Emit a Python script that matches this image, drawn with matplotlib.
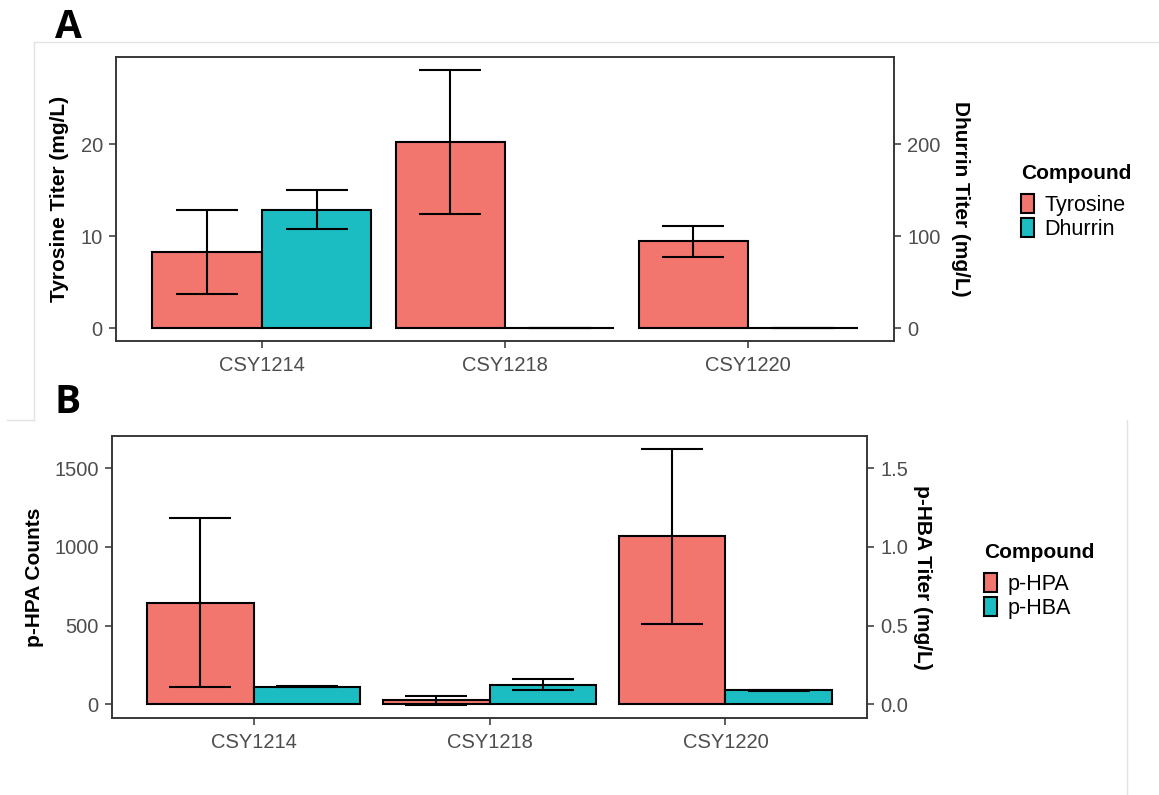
import matplotlib
matplotlib.use("Agg")
import matplotlib.pyplot as plt
import numpy as np
from matplotlib.patches import Patch
from matplotlib.lines import Line2D

plt.rcParams['font.family'] = ['Liberation Sans', 'DejaVu Sans']

# Datos
cepas = ["CSY1214", "CSY1218", "CSY1220"]

tyr_media = [8.26, 20.25, 9.45]      # mg/L
tyr_sd = [4.57, 7.82, 1.67]
dhu_media = [128.6, 0.0, 0.0]        # mg/L
dhu_sd = [21.2, 0.0, 0.0]

hpa_media = [645, 25, 1068]          # counts
hpa_sd = [537, 30, 555]
hba_media = [0.113, 0.1245, 0.0885]  # mg/L
hba_sd = [0.005, 0.036, 0.001]

rojo = "#F3766E"
verde = "#1CBDC2"
gris_txt = "#4D4D4D"
gris_eje = "#333333"


def panel(ax, izq, izq_sd, der, der_sd, escala, ylab_izq, ylab_der,
          ticks_izq, ticks_der, fmt_der, lab_x_izq, lab_x_der):
    x = np.arange(len(cepas))
    w = 0.45
    izq = np.array(izq, float)
    izq_sd = np.array(izq_sd, float)
    der = np.array(der, float) / escala
    der_sd = np.array(der_sd, float) / escala

    ax.bar(x - w / 2, izq, w, color=rojo, edgecolor="black", linewidth=1.5, zorder=2)
    ax.bar(x + w / 2, der, w, color=verde, edgecolor="black", linewidth=1.5, zorder=2)
    ax.errorbar(x - w / 2, izq, yerr=izq_sd, fmt="none", ecolor="black",
                elinewidth=1.5, capsize=22, capthick=1.5, zorder=3)
    ax.errorbar(x + w / 2, der, yerr=der_sd, fmt="none", ecolor="black",
                elinewidth=1.5, capsize=22, capthick=1.5, zorder=3)

    # limites como ggplot (expansion 5%)
    lo = min(0, np.min(izq - izq_sd), np.min(der - der_sd))
    hi = max(np.max(izq + izq_sd), np.max(der + der_sd))
    pad = 0.05 * (hi - lo)
    ax.set_ylim(lo - pad, hi + pad)
    ax.set_xlim(-0.6, len(cepas) - 0.4)

    ax.set_xticks(x)
    ax.set_xticklabels(cepas)
    ax.set_yticks(ticks_izq)
    ax.set_yticklabels([str(t) for t in ticks_izq])

    ax2 = ax.twinx()
    ax2.set_ylim(ax.get_ylim())
    ax2.set_yticks([t / escala for t in ticks_der])
    ax2.set_yticklabels([fmt_der.format(t) for t in ticks_der])

    for a in (ax, ax2):
        for s in a.spines.values():
            s.set_color(gris_eje)
            s.set_linewidth(1.1)
        a.tick_params(colors=gris_eje, labelcolor=gris_txt, labelsize=14.5,
                      length=5, width=1.1, pad=4.5)
    ax.tick_params(axis="x", pad=5.5)

    ax.set_ylabel(ylab_izq, fontsize=15, fontweight="bold", color="black")
    ax.yaxis.set_label_coords(lab_x_izq, 0.5)
    ax.yaxis.label.set_va("center")
    ax2.set_ylabel(ylab_der, fontsize=15, fontweight="bold", color="black",
                   rotation=-90)
    ax2.yaxis.set_label_coords(lab_x_der, 0.5)
    ax2.yaxis.label.set_va("center")

    handles = [Patch(facecolor=rojo, edgecolor="black", linewidth=1.5),
               Patch(facecolor=verde, edgecolor="black", linewidth=1.5)]
    return handles


fig = plt.figure(figsize=(11.59, 7.95), dpi=100)

axA = fig.add_axes([0.1001, 0.5711, 0.6713, 0.3572])
hA = panel(axA, tyr_media, tyr_sd, dhu_media, dhu_sd, 10.0,
           "Tyrosine Titer (mg/L)", "Dhurrin Titer (mg/L)",
           [0, 10, 20], [0, 100, 200], "{:d}", -0.072, 1.085)

axB = fig.add_axes([0.0966, 0.0969, 0.6515, 0.3547])
hB = panel(axB, hpa_media, hpa_sd, hba_media, hba_sd, 0.001,
           "p-HPA Counts", "p-HBA Titer (mg/L)",
           [0, 500, 1000, 1500], [0.0, 0.5, 1.0, 1.5], "{:.1f}", -0.102, 1.073)

# leyendas: titulo aparte y entradas debajo
for h, labs, xt, yt in [(hA, ["Tyrosine", "Dhurrin"], 1021, 179),
                        (hB, ["p-HPA", "p-HBA"], 984, 558)]:
    fig.text(xt / 1159, 1 - yt / 795, "Compound", fontsize=15,
             fontweight="bold", va="baseline")
    fig.legend(h, labs, loc="upper left",
               bbox_to_anchor=(xt / 1159, 1 - (yt + 15) / 795),
               frameon=False, fontsize=15.5, borderpad=0, borderaxespad=0,
               handlelength=0.6, handleheight=0.95, handletextpad=0.5,
               labelspacing=0.12)

# letras de panel
fig.text(55 / 1159, 1 - 38 / 795, "A", fontsize=28, fontweight="bold",
         family="Open Sans", va="baseline")
fig.text(55 / 1159, 1 - 413 / 795, "B", fontsize=28, fontweight="bold",
         family="Open Sans", va="baseline")

# bordes tenues de la captura original
gris_borde = "#E3E3E3"
for xs, ys in [([34, 1159], [42, 42]), ([34, 34], [42, 420]),
               ([7, 34], [420, 420]), ([1127, 1127], [420, 795])]:
    fig.add_artist(Line2D([v / 1159 for v in xs], [1 - v / 795 for v in ys],
                          color=gris_borde, linewidth=1))

plt.savefig("out.png", dpi=100)
